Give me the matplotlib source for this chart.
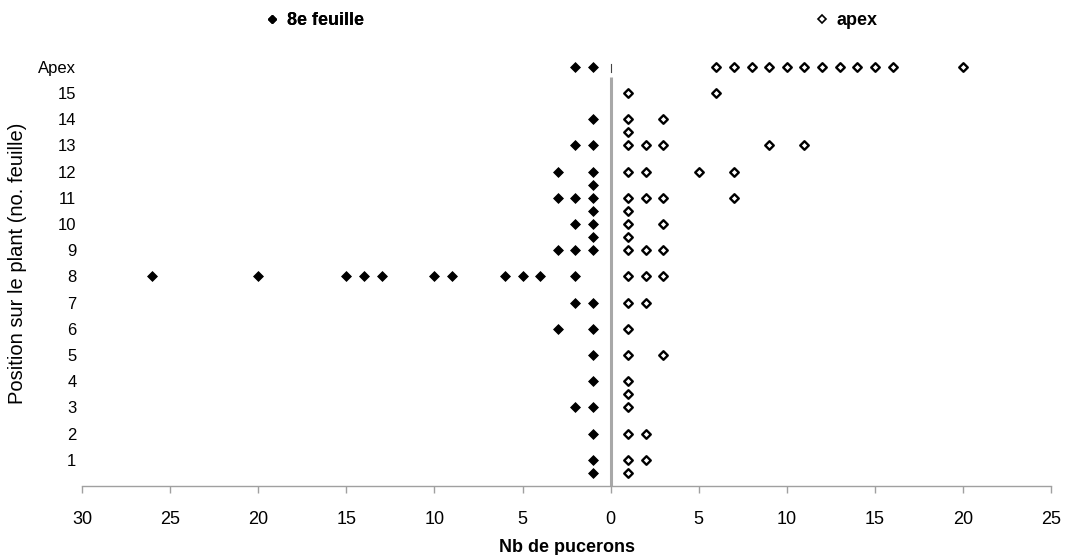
import matplotlib
matplotlib.use("Agg")
import matplotlib.pyplot as plt
from matplotlib.lines import Line2D

plt.rcParams['font.family'] = ['Liberation Sans', 'DejaVu Sans']

# Position rows: 1..15 are leaf numbers, 16 is the apex; half rows hold repeated counts
row_ticks = list(range(1, 17))
row_labels = [str(i) for i in range(1, 16)] + ["Apex"]

# Aphid counts for plants infested on the 8th leaf (drawn on the left side)
feuille_pos = [16, 16,
               14,
               13, 13,
               12, 12,
               11.5,
               11, 11, 11,
               10.5,
               10, 10,
               9.5,
               9, 9, 9,
               8, 8, 8, 8, 8, 8, 8, 8, 8, 8, 8,
               7, 7,
               6, 6,
               5,
               4,
               3, 3,
               2,
               1,
               0.5]
feuille_nb = [2, 1,
              1,
              2, 1,
              3, 1,
              1,
              3, 2, 1,
              1,
              2, 1,
              1,
              3, 2, 1,
              26, 20, 15, 14, 13, 10, 9, 6, 5, 4, 2,
              2, 1,
              3, 1,
              1,
              1,
              2, 1,
              1,
              1,
              1]

# Aphid counts for plants infested on the apex (drawn on the right side)
apex_pos = [16] * 12 + [
            15, 15,
            14, 14,
            13.5,
            13, 13, 13, 13, 13,
            12, 12, 12, 12,
            11, 11, 11, 11,
            10.5,
            10, 10,
            9.5,
            9, 9, 9,
            8, 8, 8,
            7, 7,
            6,
            5, 5,
            4,
            3.5,
            3,
            2, 2,
            1, 1,
            0.5]
apex_nb = [6, 7, 8, 9, 10, 11, 12, 13, 14, 15, 16, 20,
           1, 6,
           1, 3,
           1,
           1, 2, 3, 9, 11,
           1, 2, 5, 7,
           1, 2, 3, 7,
           1,
           1, 3,
           1,
           1, 2, 3,
           1, 2, 3,
           1, 2,
           1,
           1, 3,
           1,
           1,
           1,
           1, 2,
           1, 2,
           1]

x_ticks = [-30, -25, -20, -15, -10, -5, 0, 5, 10, 15, 20, 25]
x_tick_labels = ["30", "25", "20", "15", "10", "5", "0", "5", "10", "15", "20", "25"]

fig = plt.figure(figsize=(10.65, 5.55), dpi=100)
ax = fig.add_axes([0.077, 0.1243, 0.91, 0.8027])

# 8th-leaf counts are mirrored to the left of zero
ax.scatter([-v for v in feuille_nb], feuille_pos, marker='D', s=25,
           facecolor='black', edgecolor='black', linewidth=0.6, zorder=3)
ax.scatter(apex_nb, apex_pos, marker='D', s=19,
           facecolor='white', edgecolor='black', linewidth=1.7, zorder=3)

ax.set_xlim(-30, 25)
ax.set_ylim(0, 17)

# Central axis at zero
ax.plot([0, 0], [0, 15.62], color='#a8a8a8', linewidth=2.2, zorder=2,
        solid_capstyle='butt')
ax.plot([0, 0], [15.8, 16.1], color='#444444', linewidth=0.8, zorder=2)

for side in ['top', 'right', 'left']:
    ax.spines[side].set_visible(False)
ax.spines['bottom'].set_color('#a0a0a0')
ax.spines['bottom'].set_linewidth(1.0)

ax.set_xticks(x_ticks)
ax.set_xticklabels(x_tick_labels, fontsize=13)
ax.tick_params(axis='x', direction='out', length=5, color='#a0a0a0',
               width=1.0, pad=13)
ax.set_yticks(row_ticks)
ax.set_yticklabels(row_labels, fontsize=12)
ax.tick_params(axis='y', length=0, pad=4)

ax.set_xlabel("Nb de pucerons", fontsize=13, fontweight='bold', labelpad=8)
ax.set_ylabel("Position sur le plant (no. feuille)", fontsize=14.5, labelpad=8)

h1 = Line2D([], [], linestyle='none', marker='D', markersize=4,
            markerfacecolor='black', markeredgecolor='black')
h2 = Line2D([], [], linestyle='none', marker='D', markersize=4,
            markerfacecolor='white', markeredgecolor='black',
            markeredgewidth=1.2)
leg_kw = dict(frameon=False, handlelength=0.6, handletextpad=0.5,
              prop={'weight': 'bold', 'size': 13})
leg1 = fig.legend([h1], ["8e feuille"], loc='center',
                  bbox_to_anchor=(0.296, 0.963), **leg_kw)
fig.add_artist(leg1)
fig.legend([h2], ["apex"], loc='center',
           bbox_to_anchor=(0.795, 0.963), **leg_kw)

fig.savefig("out.png", dpi=100)
